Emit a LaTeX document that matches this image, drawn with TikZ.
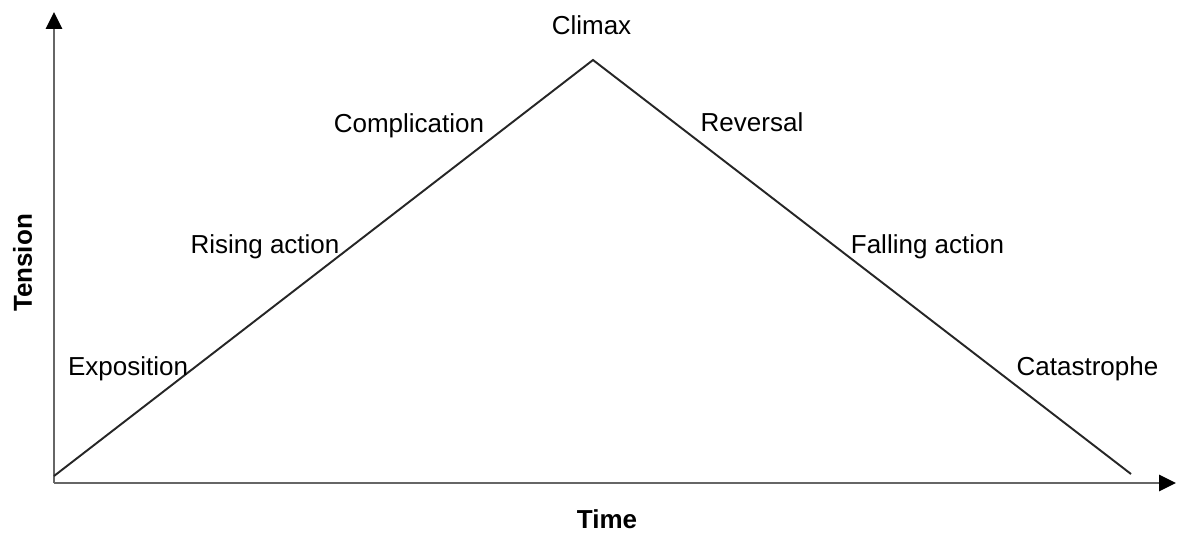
\documentclass[tikz,border=0pt]{standalone}
\usepackage{fontspec}
\setmainfont{Liberation Sans}
\usepackage{tikz}
\usetikzlibrary{arrows.meta}

\begin{document}
\begin{tikzpicture}[x=0.02cm,y=0.02cm,
	axis/.style={draw=black!60,line width=1.6pt,-{Triangle[length=0.34cm,width=0.32cm,color=black]}},
	arc/.style={draw=black!85,line width=1.1pt},
	stage/.style={anchor=base,inner sep=0pt,font=\fontsize{14.8}{17}\selectfont},
	axlabel/.style={stage,font=\fontsize{14.8}{17}\selectfont\bfseries}]
	\useasboundingbox (0,0) rectangle (1177,535);

	\coordinate (o)     at (54, 52);
	\coordinate (ytop)  at (54, 523);
	\coordinate (xend)  at (1176, 52);
	\coordinate (start) at (54, 59);
	\coordinate (peak)  at (593, 475);
	\coordinate (end)   at (1131, 61);

	\draw[axis] (o) -- (ytop);
	\draw[axis] (o) -- (xend);
	\draw[arc] (start) -- (peak) -- (end);

	\node[stage] (climax) at (591.5, 500)  {Climax};
	\node[stage] (compl)  at (409, 402)    {Complication};
	\node[stage] (rev)    at (752, 403)    {Reversal};
	\node[stage] (rising) at (265, 282)    {Rising action};
	\node[stage] (fall)   at (927.5, 282)  {Falling action};
	\node[stage] (expo)   at (128, 160)    {Exposition};
	\node[stage] (cata)   at (1087.5, 160) {Catastrophe};

	\node[axlabel] (time)    at (607, 7)   {Time};
	\node[axlabel,rotate=90] (tension) at (32, 272) {Tension};
\end{tikzpicture}
\end{document}
